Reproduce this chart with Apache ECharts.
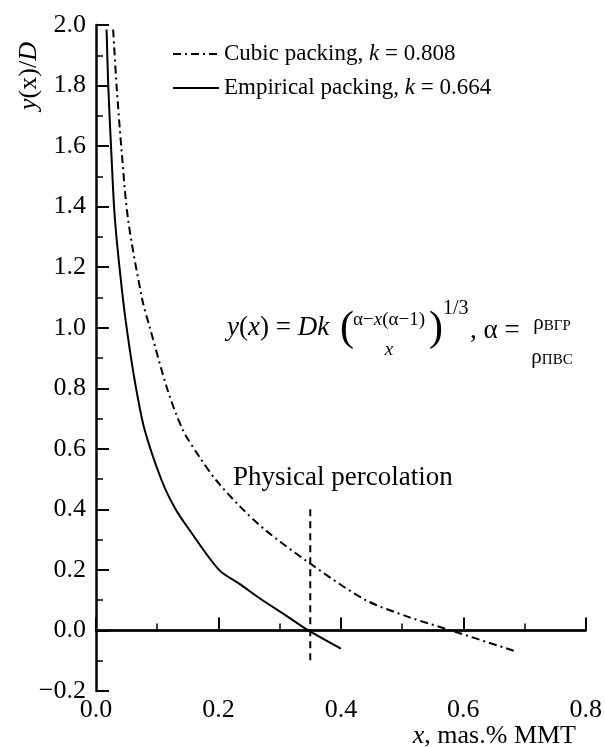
<!DOCTYPE html>
<html lang="en">
	<head>
		<meta charset="UTF-8" />
		<title>y(x)/D</title>
		<style>
			* {
				box-sizing: border-box;
				margin: 0;
				padding: 0;
			}

			#chart {
				width: 605px;
				height: 747px;
				background-color: #fff;
			}
		</style>
	</head>
	<body>
		<div id="chart"></div>
		<script src="https://cdn.jsdelivr.net/npm/echarts@6/dist/echarts.min.js"></script>
		<script>
			// data
			const cubicX = [0.028, 0.0336, 0.042, 0.0525, 0.0758, 0.088, 0.117, 0.142, 0.170, 0.196, 0.235, 0.277, 0.347, 0.439, 0.51, 0.58, 0.684]
			const cubicY = [1.985, 1.80, 1.58, 1.356, 1.091, 1.0, 0.794, 0.662, 0.57, 0.497, 0.41, 0.331, 0.225, 0.102, 0.045, 0.0, -0.068]
			const empiricalX = [0.0173, 0.020, 0.025, 0.031, 0.0443, 0.055, 0.066, 0.0795, 0.107, 0.130, 0.153, 0.201, 0.235, 0.269, 0.31, 0.347, 0.40]
			const empiricalY = [1.985, 1.80, 1.58, 1.356, 1.091, 0.93, 0.794, 0.662, 0.497, 0.40, 0.331, 0.20, 0.153, 0.104, 0.05, 0.0, -0.06]
			const zeroX = [0, 0.8]
			const zeroY = [0, 0]
			const percolationX = [0.35, 0.35]
			const percolationY = [0.4, -0.105]
			const seriesNames = ['Cubic packing, k = 0.808', 'Empirical packing, k = 0.664']

			const serif = 'Liberation Serif'
			const pairs = (xs, ys) => xs.map((x, i) => [x, ys[i]])
			const fmt = v => (Math.abs(v) < 1e-9 ? '0.0' : v.toFixed(1).replace('-', '\u2212'))
			const ital = size => ({ fontStyle: 'italic', fontFamily: serif, fontSize: size, fill: '#000' })
			const sub = size => ({ fontFamily: serif, fontSize: size, fill: '#000', verticalAlign: 'bottom' })

			const chart = echarts.init(document.getElementById('chart'))

			// small helper for formula pieces
			function txt(x, y, text, size, rich, align, vAlign) {
				return {
					type: 'text',
					x: x,
					y: y,
					style: {
						text: text,
						fontFamily: serif,
						fontSize: size,
						fill: '#000',
						textAlign: align || 'left',
						textVerticalAlign: vAlign || 'middle',
						rich: rich || {}
					}
				}
			}

			chart.setOption({
				animation: false,
				grid: {
					left: 96,
					right: 16,
					top: 25,
					bottom: 56
				},
				legend: {
					data: seriesNames,
					orient: 'vertical',
					left: 172,
					top: 40,
					padding: 0,
					itemGap: 6,
					itemWidth: 46,
					itemHeight: 14,
					itemStyle: { opacity: 0 },
					formatter: name => name.replace('k =', '{i|k} ='),
					textStyle: {
						fontFamily: serif,
						fontSize: 23,
						lineHeight: 28,
						color: '#000',
						rich: {
							i: { fontStyle: 'italic', fontFamily: serif, fontSize: 23, color: '#000' }
						}
					}
				},
				xAxis: {
					type: 'value',
					min: 0,
					max: 0.8,
					interval: 0.2,
					axisLine: { lineStyle: { color: '#000', width: 2.5 } },
					axisTick: { inside: true, length: 13, lineStyle: { color: '#000', width: 2 } },
					minorTick: { show: true, splitNumber: 2, length: 7, lineStyle: { color: '#000', width: 1.5 } },
					splitLine: { show: false },
					axisLabel: { formatter: fmt, fontFamily: serif, fontSize: 26, color: '#000', margin: 6 }
				},
				yAxis: {
					type: 'value',
					min: -0.2,
					max: 2.0,
					interval: 0.2,
					axisLine: { lineStyle: { color: '#000', width: 2.5 } },
					axisTick: { inside: true, length: 13, lineStyle: { color: '#000', width: 2 } },
					minorTick: { show: true, splitNumber: 2, length: 7, lineStyle: { color: '#000', width: 1.5 } },
					splitLine: { show: false },
					axisLabel: { formatter: fmt, fontFamily: serif, fontSize: 26, color: '#000', margin: 10 }
				},
				series: [
					{
						name: seriesNames[0],
						type: 'line',
						symbol: 'none',
						smooth: 0.3,
						data: pairs(cubicX, cubicY),
						lineStyle: { color: '#000', width: 2, type: [8, 4, 2, 4] },
						itemStyle: { color: '#000' }
					},
					{
						name: seriesNames[1],
						type: 'line',
						symbol: 'none',
						smooth: 0.3,
						data: pairs(empiricalX, empiricalY),
						lineStyle: { color: '#000', width: 2 },
						itemStyle: { color: '#000' }
					},
					{
						name: 'zero',
						type: 'line',
						symbol: 'none',
						data: pairs(zeroX, zeroY),
						lineStyle: { color: '#000', width: 2 }
					},
					{
						name: 'percolation',
						type: 'line',
						symbol: 'none',
						data: pairs(percolationX, percolationY),
						lineStyle: { color: '#000', width: 2, type: [7, 5] }
					}
				],
				graphic: [
					// y axis name
					{
						type: 'text',
						x: 29,
						y: 76,
						rotation: Math.PI / 2,
						style: {
							text: '{i|y}(x)/{i|D}',
							fontFamily: serif,
							fontSize: 26,
							fill: '#000',
							textAlign: 'center',
							textVerticalAlign: 'middle',
							rich: { i: ital(26) }
						}
					},
					// x axis name
					txt(576, 736, '{i|x}, mas.% MMT', 26, { i: ital(26) }, 'right'),
					// annotation
					txt(233, 478, 'Physical percolation', 27),
					// formula
					txt(227, 328, '{i|y}({i|x}) = {i|Dk}', 27, { i: ital(27) }),
					txt(340, 329, '(', 42),
					txt(389, 320, '\u03b1\u2212{i|x}(\u03b1\u22121)', 19, { i: ital(19) }, 'center'),
					txt(389, 350, '{i|x}', 19, { i: ital(19) }, 'center'),
					txt(429, 329, ')', 42),
					txt(443, 309, '1/3', 20),
					txt(470, 331, ', \u03b1 = ', 27),
					txt(552, 334, '{r|\u03c1}{s|\u0412\u0413\u0420}', 21, { r: sub(21), s: sub(15) }, 'center', 'bottom'),
					txt(552, 368, '{r|\u03c1}{s|\u041f\u0412\u0421}', 21, { r: sub(21), s: sub(15) }, 'center', 'bottom')
				]
			})
		</script>
	</body>
</html>
